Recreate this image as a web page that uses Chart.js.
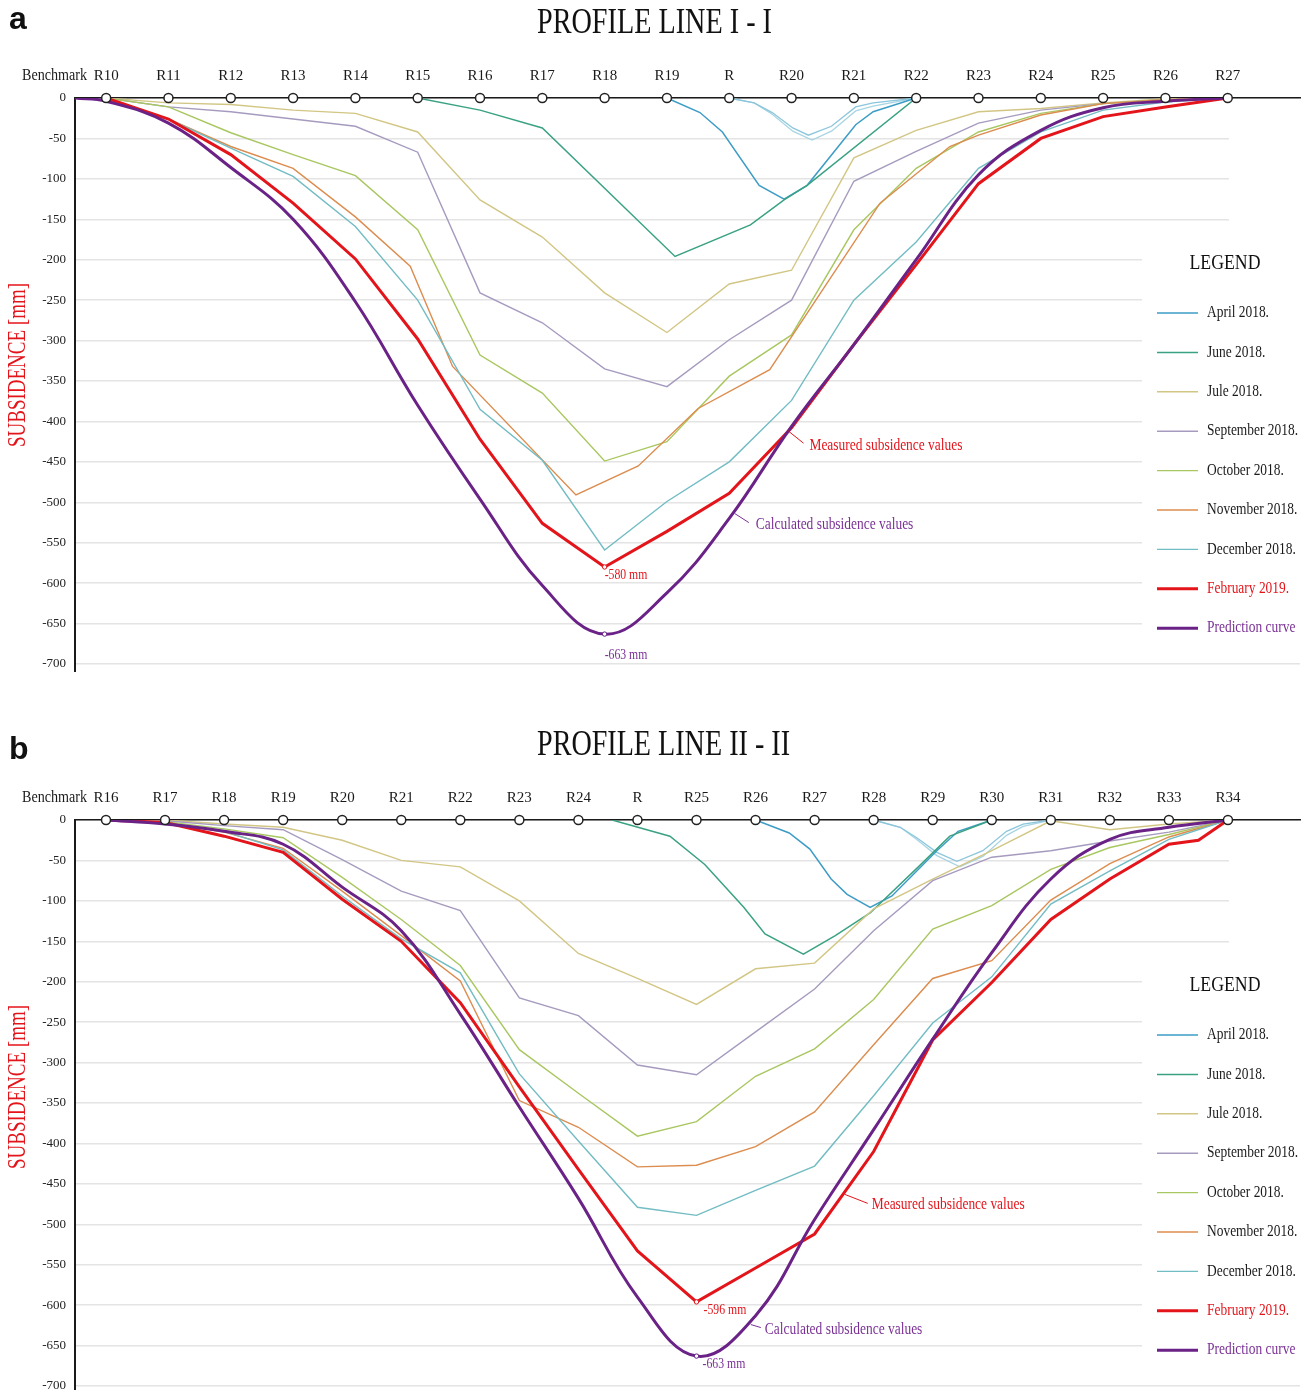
<!DOCTYPE html>
<html>
<head>
<meta charset="utf-8">
<script src="https://cdn.jsdelivr.net/npm/chart.js@4.4.1/dist/chart.umd.min.js"></script>
<style>
  html, body { margin: 0; padding: 0; background: #fff; }
  body { width: 1306px; height: 1390px; overflow: hidden; position: relative; }
  .panel { position: absolute; left: 0; width: 1306px; height: 695px; }
  #panelA { top: 0; }
  #panelB { top: 722px; }
</style>
</head>
<body>
<div class="panel" id="panelA"><canvas id="chartA"></canvas></div>
<div class="panel" id="panelB"><canvas id="chartB"></canvas></div>
<script>
const SERIF = "'Liberation Serif', 'Times New Roman', serif";

// benchmark names along each profile line
const benchTop = ['R10', 'R11', 'R12', 'R13', 'R14', 'R15', 'R16', 'R17', 'R18', 'R19', 'R', 'R20', 'R21', 'R22', 'R23', 'R24', 'R25', 'R26', 'R27'];
const benchBottom = ['R16', 'R17', 'R18', 'R19', 'R20', 'R21', 'R22', 'R23', 'R24', 'R', 'R25', 'R26', 'R27', 'R28', 'R29', 'R30', 'R31', 'R32', 'R33', 'R34'];

const yTicks = { min: -700, max: 0, step: 50 };

// ---- profile line I - I (mm, one value per benchmark unless x is given) ----
const julTop = [0, -6, -8, -15, -19, -42, -126, -172, -241, -290, -230, -213, -74, -40, -17, -13, -6, -1, 0];
const sepTop = [0, -11, -17, -26, -35, -67, -241, -278, -335, -357, -299, -250, -103, -66, -31, -15, -7, -2, 0];
const octTop = [0, -11, -43, -70, -96, -163, -318, -365, -449, -425, -344, -293, -163, -87, -42, -19, -7, -2, 0];
const decTop = [0, -26, -62, -97, -159, -250, -385, -448, -559, -499, -450, -374, -250, -178, -87, -42, -15, -5, 0];
const febTop = [0, -26, -70, -130, -199, -298, -422, -526, -580, -536, -489, -408, -305, -206, -106, -50, -23, -11, 0];
const novTopX = [0, 1, 2, 3, 4, 4.88, 5.56, 7.54, 8.54, 9.5, 10.65, 12.42, 13.54, 14, 15, 16, 17, 18];
const novTopY = [0, -26, -60, -87, -147, -208, -332, -491, -455, -384, -336, -130, -60, -46, -21, -7, -2, 0];
const aprTopX = [9, 9.53, 9.89, 10.48, 10.88, 11.25, 12.03, 12.31, 13];
const aprTopY = [0, -18, -42, -108, -125, -108, -33, -17, 0];
const junTopX = [5, 6, 7, 9.13, 10.34, 10.88, 11.25, 13];
const junTopY = [0, -15, -37, -196, -157, -126, -108, 0];
const lbaTopX = [10, 10.4, 10.69, 11.02, 11.27, 11.64, 12.03, 12.31, 13];
const lbaTopY = [0, -6, -18, -37, -46, -35, -11, -6, 0];
const lbbTopX = [10, 10.4, 10.69, 11.02, 11.33, 11.64, 12.03, 12.31, 13];
const lbbTopY = [0, -6, -20, -41, -52, -41, -16, -10, 0];
const predTopX = [-0.5, 0, 1, 2, 3, 4, 5, 6, 7, 8, 9, 10, 11, 12, 13, 14, 15, 16, 17, 18];
const predTopY = [0, -4, -31, -86, -150, -252, -380, -496, -603, -663, -612, -520, -406, -305, -200, -95, -40, -12, -4, 0];

// ---- profile line II - II ----
const julBot = [0, 0, -5, -9, -25, -50, -58, -100, -165, -196, -228, -184, -177, -110, -73, -38, -1, -12, -5, 0];
const sepBot = [0, -1, -7, -12, -49, -88, -112, -220, -242, -303, -315, -262, -209, -137, -75, -46, -38, -26, -15, 0];
const octBot = [0, -2, -11, -22, -71, -123, -180, -284, -338, -391, -373, -317, -283, -222, -135, -106, -61, -34, -18, 0];
const novBot = [0, -3, -15, -35, -88, -143, -199, -347, -380, -429, -427, -404, -361, -278, -196, -174, -99, -54, -21, 0];
const decBot = [0, -3, -14, -37, -94, -147, -189, -314, -397, -479, -489, -458, -428, -341, -251, -194, -104, -63, -24, 0];
const febBotX = [0, 1, 2, 3, 4, 5, 6, 7, 8, 9, 10, 11, 12, 13, 14, 15, 16, 17, 18, 18.5, 19];
const febBotY = [0, -3, -20, -40, -98, -150, -226, -330, -432, -533, -596, -554, -512, -410, -272, -201, -123, -73, -30, -25, 0];
const predBot = [0, -5, -14, -30, -83, -137, -240, -355, -468, -590, -663, -613, -494, -383, -271, -164, -73, -24, -9, 0];
const junBotX = [8.57, 9.55, 10.14, 10.8, 11.16, 11.81, 12.35, 12.94, 13.77, 14.29, 15];
const junBotY = [0, -20, -55, -108, -141, -166, -143, -115, -57, -20, 0];
const aprBotX = [11, 11.57, 11.92, 12.28, 12.55, 12.94, 13.31, 14.07, 14.43, 15];
const aprBotY = [0, -16, -36, -73, -92, -108, -94, -38, -14, 0];
const lbaBotX = [13, 13.45, 13.73, 14.07, 14.41, 14.85, 15.25, 15.53, 16];
const lbaBotY = [0, -9, -22, -40, -51, -38, -14, -5, 0];
const lbbBotX = [13, 13.45, 13.73, 14.07, 14.46, 14.85, 15.25, 15.53, 16];
const lbbBotY = [0, -9, -24, -44, -58, -45, -19, -8, 0];

// legend
const legendKeys = ['apr', 'jun', 'jul', 'sep', 'oct', 'nov', 'dec', 'feb', 'pred'];
const legendLabels = ['April 2018.', 'June 2018.', 'Jule 2018.', 'September 2018.', 'October 2018.', 'November 2018.', 'December 2018.', 'February 2019.', 'Prediction curve'];

const RED = '#e3151b';
const PURPLE = '#6a2287';
const styles = {
    apr: { color: '#3d9cc6', width: 1.5, text: '#1a1a1a' },
    jun: { color: '#3aa283', width: 1.5, text: '#1a1a1a' },
    jul: { color: '#d2c684', width: 1.4, text: '#1a1a1a' },
    sep: { color: '#a69bbf', width: 1.4, text: '#1a1a1a' },
    oct: { color: '#a9c760', width: 1.4, text: '#1a1a1a' },
    nov: { color: '#dc8c4e', width: 1.4, text: '#1a1a1a' },
    dec: { color: '#72bcc3', width: 1.4, text: '#1a1a1a' },
    feb: { color: RED, width: 3, text: RED },
    pred: { color: PURPLE, width: 3, text: '#7a3195' },
    lba: { color: '#8cc6dc', width: 1.3 },
    lbb: { color: '#a8d5e3', width: 1.3 }
};

function pts(xs, ys) {
    return ys.map((y, i) => ({ x: xs ? xs[i] : i, y }));
}

function drawText(ctx, text, x, y, o) {
    ctx.save();
    ctx.font = `${o.weight || 'normal'} ${o.size}px ${o.family || SERIF}`;
    ctx.fillStyle = o.color || '#1a1a1a';
    ctx.textBaseline = o.baseline || 'middle';
    ctx.textAlign = 'left';
    const w = ctx.measureText(text).width;
    const sx = o.width ? o.width / w : (o.scaleX || 1);
    ctx.translate(x, y);
    if (o.rotate) ctx.rotate(o.rotate);
    ctx.scale(sx, 1);
    let ox = 0;
    if (o.align === 'center') ox = -w / 2;
    ctx.fillText(text, ox, 0);
    ctx.restore();
}

const decor = {
    id: 'decor',
    beforeDatasetsDraw(chart) {
        // the original figure has the grid cut away around the legend
        const ctx = chart.ctx;
        ctx.save();
        ctx.fillStyle = '#fff';
        ctx.fillRect(1229, 101, 77, 139);
        ctx.fillRect(1142, 240, 164, 420);
        ctx.restore();
    },
    afterDatasetsDraw(chart, args, o) {
        const ctx = chart.ctx;
        const xs = chart.scales.x, ys = chart.scales.y;
        const area = chart.chartArea;

        ctx.save();
        ctx.strokeStyle = '#1a1a1a';
        ctx.lineWidth = 2;
        ctx.beginPath();
        ctx.moveTo(area.left, area.bottom);
        ctx.lineTo(area.left, area.bottom + 8);
        ctx.stroke();
        ctx.restore();

        drawText(ctx, o.letter, 9, o.letterBase, { size: 32, weight: 'bold', family: "'Liberation Sans', Arial, sans-serif", color: '#111', baseline: 'alphabetic', scaleX: 1 });
        drawText(ctx, o.title, 537, 24, { size: 36, width: o.titleWidth, color: '#111' });
        drawText(ctx, 'Benchmark', 54.5, 76, { size: 16, width: 65, align: 'center' });
        drawText(ctx, 'SUBSIDENCE [mm]', 18, 365, { size: 26, width: 164, align: 'center', color: RED, rotate: -Math.PI / 2 });

        // legend
        drawText(ctx, 'LEGEND', 1225, 263, { size: 22, width: 71, align: 'center', color: '#111' });
        legendKeys.forEach((k, i) => {
            const st = styles[k];
            const y = 313 + i * 39.4;
            ctx.save();
            ctx.strokeStyle = st.color;
            ctx.lineWidth = st.width;
            ctx.beginPath();
            ctx.moveTo(1157, y);
            ctx.lineTo(1198, y);
            ctx.stroke();
            ctx.restore();
            drawText(ctx, legendLabels[i], 1207, y, { size: 16, scaleX: 0.84, color: st.text });
        });

        // annotations
        o.notes.forEach(n => {
            const px = xs.getPixelForValue(n.at[0]);
            const py = ys.getPixelForValue(n.at[1]);
            if (n.leader) {
                ctx.save();
                ctx.strokeStyle = n.color;
                ctx.lineWidth = 1;
                ctx.beginPath();
                ctx.moveTo(px, py);
                ctx.lineTo(px + n.leader[0], py + n.leader[1]);
                ctx.stroke();
                ctx.restore();
            }
            drawText(ctx, n.text, px + n.dx, py + n.dy, { size: n.size, scaleX: 0.84, color: n.color });
        });
    }
};

function buildPanel(p) {
    const datasets = [{
        label: 'benchmarks',
        data: p.names.map((n, i) => ({ x: i, y: 0 })),
        showLine: false,
        pointRadius: 4.5,
        pointBackgroundColor: '#fff',
        pointBorderColor: '#222',
        pointBorderWidth: 1.5,
        clip: false,
        order: 0
    }];
    p.series.forEach((s, k) => {
        const st = styles[s.key];
        datasets.push({
            label: s.key,
            data: pts(s.x, s.y),
            borderColor: st.color,
            borderWidth: st.width,
            pointRadius: c => (c.dataIndex === s.mark ? 2.2 : 0),
            pointBackgroundColor: '#fff',
            pointBorderColor: st.color,
            pointBorderWidth: 1,
            tension: s.smooth ? 0.4 : 0,
            fill: false,
            order: k + 1
        });
    });

    new Chart(document.getElementById(p.canvas), {
        type: 'line',
        data: { datasets },
        plugins: [decor],
        options: {
            responsive: true,
            maintainAspectRatio: false,
            animation: false,
            layout: { padding: { left: 0, right: 6, top: 0, bottom: 31 } },
            plugins: {
                legend: { display: false },
                tooltip: { enabled: false },
                decor: { letter: p.letter, letterBase: p.letterBase, title: p.title, titleWidth: p.titleWidth, notes: p.notes }
            },
            scales: {
                x: {
                    type: 'linear',
                    position: 'top',
                    min: p.xMin,
                    max: p.xMax,
                    afterBuildTicks: scale => { scale.ticks = p.names.map((n, i) => ({ value: i })); },
                    afterFit: scale => { scale.height = 98; },
                    ticks: {
                        autoSkip: false,
                        maxRotation: 0,
                        padding: 13,
                        color: '#1a1a1a',
                        font: { family: SERIF, size: 15 },
                        callback: v => p.names[v] ?? ''
                    },
                    grid: { display: false, drawTicks: false },
                    border: { display: true, color: '#1a1a1a', width: 1.5 }
                },
                y: {
                    type: 'linear',
                    min: yTicks.min,
                    max: yTicks.max,
                    afterFit: scale => { scale.width = 75; },
                    ticks: {
                        stepSize: yTicks.step,
                        padding: 9,
                        color: '#222',
                        font: { family: SERIF, size: 13 }
                    },
                    grid: { color: '#e4e4e4', lineWidth: 1.4, drawTicks: false },
                    border: { display: true, color: '#1a1a1a', width: 2 }
                }
            }
        }
    });
}

buildPanel({
    canvas: 'chartA',
    letter: 'a',
    letterBase: 29,
    title: 'PROFILE LINE I - I',
    titleWidth: 235,
    names: benchTop,
    xMin: -0.5,
    xMax: 19.16,
    series: [
        { key: 'pred', x: predTopX, y: predTopY, smooth: true, mark: 9 },
        { key: 'feb', y: febTop, mark: 8 },
        { key: 'dec', y: decTop },
        { key: 'nov', x: novTopX, y: novTopY },
        { key: 'oct', y: octTop },
        { key: 'sep', y: sepTop },
        { key: 'jul', y: julTop },
        { key: 'jun', x: junTopX, y: junTopY },
        { key: 'apr', x: aprTopX, y: aprTopY },
        { key: 'lba', x: lbaTopX, y: lbaTopY },
        { key: 'lbb', x: lbbTopX, y: lbbTopY }
    ],
    notes: [
        { text: '-580 mm', at: [8, -580], dx: 0, dy: 8, size: 14, color: RED },
        { text: '-663 mm', at: [8, -663], dx: 0, dy: 21, size: 14, color: '#7a3195' },
        { text: 'Measured subsidence values', at: [10.95, -412], leader: [15, 12], dx: 21, dy: 15, size: 16, color: RED },
        { text: 'Calculated subsidence values', at: [10.09, -514], leader: [14, 9], dx: 21, dy: 11, size: 16, color: '#7a3195' }
    ]
});

buildPanel({
    canvas: 'chartB',
    letter: 'b',
    letterBase: 37,
    title: 'PROFILE LINE II - II',
    titleWidth: 253,
    names: benchBottom,
    xMin: -0.525,
    xMax: 20.22,
    series: [
        { key: 'pred', y: predBot, smooth: true, mark: 10 },
        { key: 'feb', x: febBotX, y: febBotY, mark: 10 },
        { key: 'dec', y: decBot },
        { key: 'nov', y: novBot },
        { key: 'oct', y: octBot },
        { key: 'sep', y: sepBot },
        { key: 'jul', y: julBot },
        { key: 'jun', x: junBotX, y: junBotY },
        { key: 'apr', x: aprBotX, y: aprBotY },
        { key: 'lba', x: lbaBotX, y: lbaBotY },
        { key: 'lbb', x: lbbBotX, y: lbbBotY }
    ],
    notes: [
        { text: '-596 mm', at: [10, -596], dx: 7, dy: 8, size: 14, color: RED },
        { text: '-663 mm', at: [10, -663], dx: 6, dy: 8, size: 14, color: '#7a3195' },
        { text: 'Measured subsidence values', at: [12.51, -463], leader: [23, 9], dx: 27, dy: 10, size: 16, color: RED },
        { text: 'Calculated subsidence values', at: [10.92, -624], leader: [10, 3], dx: 14, dy: 5, size: 16, color: '#7a3195' }
    ]
});
</script>
</body>
</html>
